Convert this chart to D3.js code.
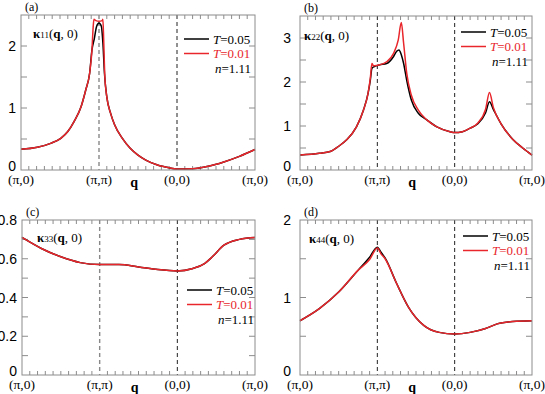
<!DOCTYPE html>
<html>
<head>
<meta charset="utf-8">
<script src="https://cdn.jsdelivr.net/npm/d3@7"></script>
<style>
  body { margin: 0; background: #fff; }
  svg { display: block; }
  .serif { font-family: "Liberation Serif", "Times New Roman", serif; }
  .sans { font-family: "Liberation Sans", Arial, sans-serif; }
</style>
</head>
<body>
<div id="vis"></div>
<script>
const FRAME_WIDTH = 545;
const FRAME_HEIGHT = 394;

// path labels along q
const xLabels = ["(\u03c0,0)", "(\u03c0,\u03c0)", "(0,0)", "(\u03c0,0)"];
const legendLabels = ["T=0.05", "T=0.01"];

// (a) kappa11
const k11X05 = [0, 0.21, 0.38, 0.51, 0.6, 0.68, 0.77, 0.83, 0.88, 0.91, 0.94, 0.97, 1.0, 1.03, 1.05, 1.07, 1.1, 1.15, 1.2, 1.3, 1.4, 1.5, 1.6, 1.75, 1.9, 2.0, 2.2, 2.4, 2.6, 2.8, 3.0];
const k11Y05 = [0.333, 0.366, 0.43, 0.51, 0.62, 0.78, 1.02, 1.29, 1.56, 1.94, 2.12, 2.32, 2.37, 2.32, 2.05, 1.56, 1.18, 0.91, 0.73, 0.51, 0.35, 0.24, 0.16, 0.08, 0.035, 0.015, 0.02, 0.06, 0.13, 0.22, 0.33];
const k11X01 = [0, 0.21, 0.38, 0.51, 0.6, 0.68, 0.77, 0.83, 0.88, 0.91, 0.925, 0.935, 0.96, 1.0, 1.04, 1.05, 1.06, 1.075, 1.1, 1.15, 1.2, 1.3, 1.4, 1.5, 1.6, 1.75, 1.9, 2.0, 2.2, 2.4, 2.6, 2.8, 3.0];
const k11Y01 = [0.333, 0.366, 0.43, 0.51, 0.62, 0.78, 1.02, 1.29, 1.56, 1.94, 2.3, 2.43, 2.41, 2.40, 2.41, 2.43, 2.1, 1.5, 1.18, 0.91, 0.73, 0.51, 0.35, 0.24, 0.16, 0.08, 0.035, 0.015, 0.02, 0.06, 0.13, 0.22, 0.33];

// (b) kappa22
const k22X05 = [0, 0.25, 0.39, 0.5, 0.6, 0.73, 0.82, 0.88, 0.91, 0.93, 0.96, 1.03, 1.12, 1.21, 1.25, 1.28, 1.31, 1.34, 1.38, 1.44, 1.53, 1.64, 1.77, 1.94, 2.0, 2.1, 2.2, 2.3, 2.4, 2.45, 2.5, 2.6, 2.75, 2.88, 3.0];
const k22Y05 = [0.34, 0.38, 0.42, 0.54, 0.68, 0.98, 1.36, 1.74, 2.05, 2.31, 2.35, 2.39, 2.42, 2.58, 2.70, 2.73, 2.62, 2.42, 2.04, 1.59, 1.29, 1.14, 0.98, 0.87, 0.85, 0.87, 0.95, 1.05, 1.3, 1.55, 1.38, 1.05, 0.7, 0.5, 0.34];
const k22X01 = [0, 0.25, 0.39, 0.5, 0.6, 0.73, 0.82, 0.88, 0.91, 0.93, 0.945, 0.96, 1.03, 1.12, 1.21, 1.27, 1.31, 1.34, 1.38, 1.44, 1.53, 1.64, 1.77, 1.94, 2.0, 2.1, 2.2, 2.3, 2.4, 2.45, 2.5, 2.6, 2.75, 2.88, 3.0];
const k22Y01 = [0.34, 0.38, 0.42, 0.54, 0.68, 0.98, 1.36, 1.74, 2.1, 2.42, 2.38, 2.37, 2.39, 2.46, 2.65, 2.95, 3.35, 2.88, 2.2, 1.7, 1.36, 1.14, 0.98, 0.87, 0.85, 0.87, 0.95, 1.07, 1.38, 1.76, 1.42, 1.05, 0.7, 0.5, 0.34];

// (c) kappa33
const k33X = [0, 0.25, 0.5, 0.75, 1.0, 1.25, 1.5, 1.75, 2.0, 2.2, 2.35, 2.45, 2.6, 2.8, 3.0];
const k33Y05 = [0.71, 0.653, 0.61, 0.58, 0.57, 0.57, 0.558, 0.544, 0.537, 0.55, 0.575, 0.61, 0.67, 0.70, 0.71];
const k33Y01 = [0.71, 0.653, 0.61, 0.58, 0.57, 0.57, 0.558, 0.544, 0.537, 0.55, 0.575, 0.61, 0.67, 0.70, 0.71];

// (d) kappa44
const k44X = [0, 0.25, 0.5, 0.75, 0.9, 1.0, 1.05, 1.1, 1.25, 1.4, 1.6, 1.8, 2.0, 2.2, 2.4, 2.55, 2.75, 3.0];
const k44Y05 = [0.70, 0.856, 1.07, 1.35, 1.52, 1.65, 1.58, 1.51, 1.18, 0.88, 0.64, 0.55, 0.53, 0.55, 0.60, 0.66, 0.69, 0.70];
const k44Y01 = [0.70, 0.856, 1.07, 1.35, 1.49, 1.64, 1.56, 1.50, 1.18, 0.88, 0.64, 0.55, 0.53, 0.55, 0.60, 0.66, 0.69, 0.70];

const PANELS = [
  { tag: "(a)", idx: "11", left: 21, right: 255, top: 15, bottom: 170, ymax: 2.5, step: 0.5, label: [0, 1, 2],
    labOff: 5, kappa: [33, 38], leg: [184, 39], dash1: "#888",
    s05: [k11X05, k11Y05], s01: [k11X01, k11Y01] },
  { tag: "(b)", idx: "22", left: 300, right: 532, top: 16, bottom: 170, ymax: 3.5, step: 0.5, label: [0, 1, 2, 3],
    labOff: 9, kappa: [304, 40], leg: [461, 32], dash1: "#222",
    s05: [k22X05, k22Y05], s01: [k22X01, k22Y01] },
  { tag: "(c)", idx: "33", left: 22, right: 255, top: 220, bottom: 375, ymax: 0.8, step: 0.1, label: [0, 0.2, 0.4, 0.6, 0.8],
    labOff: 5, kappa: [37, 242], leg: [187, 290], dash1: "#888",
    s05: [k33X, k33Y05], s01: [k33X, k33Y01] },
  { tag: "(d)", idx: "44", left: 300, right: 532, top: 220, bottom: 375, ymax: 2, step: 0.5, label: [0, 1, 2],
    labOff: 9, kappa: [309, 243], leg: [463, 236], dash1: "#222",
    s05: [k44X, k44Y05], s01: [k44X, k44Y01] }
];

const svg = d3.select("#vis").append("svg")
  .attr("width", FRAME_WIDTH)
  .attr("height", FRAME_HEIGHT);

const AXIS_COLOR = "#8c8c8c";

PANELS.forEach((p) => {
  const X_SCALE = d3.scaleLinear().domain([0, 3]).range([p.left, p.right]);
  const Y_SCALE = d3.scaleLinear().domain([0, p.ymax]).range([p.bottom, p.top]);
  const g = svg.append("g");

  // minor x ticks, top and bottom
  const xt = d3.range(1, 30).map((i) => i / 10).filter((v) => Math.abs(v - 1) > 1e-6 && Math.abs(v - 2) > 1e-6);
  xt.forEach((v) => {
    g.append("line").attr("x1", X_SCALE(v)).attr("x2", X_SCALE(v))
      .attr("y1", p.bottom).attr("y2", p.bottom - 4)
      .attr("stroke", AXIS_COLOR).attr("stroke-width", 1);
    g.append("line").attr("x1", X_SCALE(v)).attr("x2", X_SCALE(v))
      .attr("y1", p.top).attr("y2", p.top + 4)
      .attr("stroke", AXIS_COLOR).attr("stroke-width", 1);
  });

  // y ticks both sides
  const nY = Math.round(p.ymax / p.step);
  d3.range(1, nY).map((i) => i * p.step).forEach((v) => {
    g.append("line").attr("x1", p.left).attr("x2", p.left + 6)
      .attr("y1", Y_SCALE(v)).attr("y2", Y_SCALE(v))
      .attr("stroke", AXIS_COLOR).attr("stroke-width", 1);
    g.append("line").attr("x1", p.right).attr("x2", p.right - 6)
      .attr("y1", Y_SCALE(v)).attr("y2", Y_SCALE(v))
      .attr("stroke", AXIS_COLOR).attr("stroke-width", 1);
  });

  // dashed high-symmetry lines
  [1, 2].forEach((v, i) => {
    g.append("line").attr("x1", X_SCALE(v)).attr("x2", X_SCALE(v))
      .attr("y1", p.top).attr("y2", p.bottom)
      .attr("stroke", i === 0 ? p.dash1 : "#222")
      .attr("stroke-width", i === 0 && p.dash1 === "#888" ? 1.4 : 1)
      .attr("stroke-dasharray", "4,3");
  });

  // curves
  const line = d3.line()
    .x((d) => X_SCALE(d[0]))
    .y((d) => Y_SCALE(d[1]))
    .curve(d3.curveMonotoneX);
  [[p.s05, "#000"], [p.s01, "#e8262b"]].forEach(([s, col]) => {
    g.append("path")
      .datum(s[0].map((x, i) => [x, s[1][i]]))
      .attr("d", line)
      .attr("fill", "none")
      .attr("stroke", col)
      .attr("stroke-width", 1.5);
  });

  // frame
  g.append("rect").attr("x", p.left).attr("y", p.top)
    .attr("width", p.right - p.left).attr("height", p.bottom - p.top)
    .attr("fill", "none").attr("stroke", AXIS_COLOR).attr("stroke-width", 1);

  // y tick labels
  p.label.forEach((v) => {
    g.append("text").attr("class", "sans")
      .attr("x", p.left - p.labOff).attr("y", Y_SCALE(v) + (v === 0 ? 1 : 5))
      .attr("text-anchor", "end").attr("font-size", "14px")
      .text(v === 0 ? "0" : (p.step < 0.5 ? v.toFixed(1) : v));
  });

  // x tick labels
  xLabels.forEach((t, i) => {
    g.append("text").attr("class", "serif")
      .attr("x", X_SCALE(i)).attr("y", p.bottom + 14)
      .attr("text-anchor", "middle").attr("font-size", "13.5px")
      .text(t);
  });
  g.append("text").attr("class", "serif")
    .attr("x", X_SCALE(1.45)).attr("y", p.bottom + 17)
    .attr("text-anchor", "middle").attr("font-size", "14px").attr("font-weight", "bold")
    .text("q");

  // panel tag
  g.append("text").attr("class", "serif")
    .attr("x", p.left + 4).attr("y", p.top - 4)
    .attr("font-size", "12px").text(p.tag);

  // kappa label
  const kt = g.append("text").attr("class", "serif")
    .attr("x", p.kappa[0]).attr("y", p.kappa[1]).attr("font-size", "13px");
  kt.append("tspan").attr("font-weight", "bold").text("\u03ba");
  kt.append("tspan").attr("font-size", "9px").text(p.idx);
  kt.append("tspan").text("(");
  kt.append("tspan").attr("font-weight", "bold").text("q");
  kt.append("tspan").text(", 0)");

  // legend
  [["#000", "#000"], ["#e8262b", "#e8262b"]].forEach(([col, tcol], i) => {
    const y = p.leg[1] + i * 14.5;
    g.append("line").attr("x1", p.leg[0]).attr("x2", p.leg[0] + 25)
      .attr("y1", y).attr("y2", y).attr("stroke", col).attr("stroke-width", 1.5);
    const t = g.append("text").attr("class", "serif")
      .attr("x", p.leg[0] + 29).attr("y", y + 4.5)
      .attr("font-size", "13px").attr("fill", tcol);
    t.append("tspan").attr("font-style", "italic").text("T");
    t.append("tspan").text(legendLabels[i].slice(1));
  });
  const nt = g.append("text").attr("class", "serif")
    .attr("x", p.leg[0] + 31).attr("y", p.leg[1] + 2 * 14.5 + 4.5)
    .attr("font-size", "13px");
  nt.append("tspan").attr("font-style", "italic").text("n");
  nt.append("tspan").text("=1.11");
});
</script>
</body>
</html>
